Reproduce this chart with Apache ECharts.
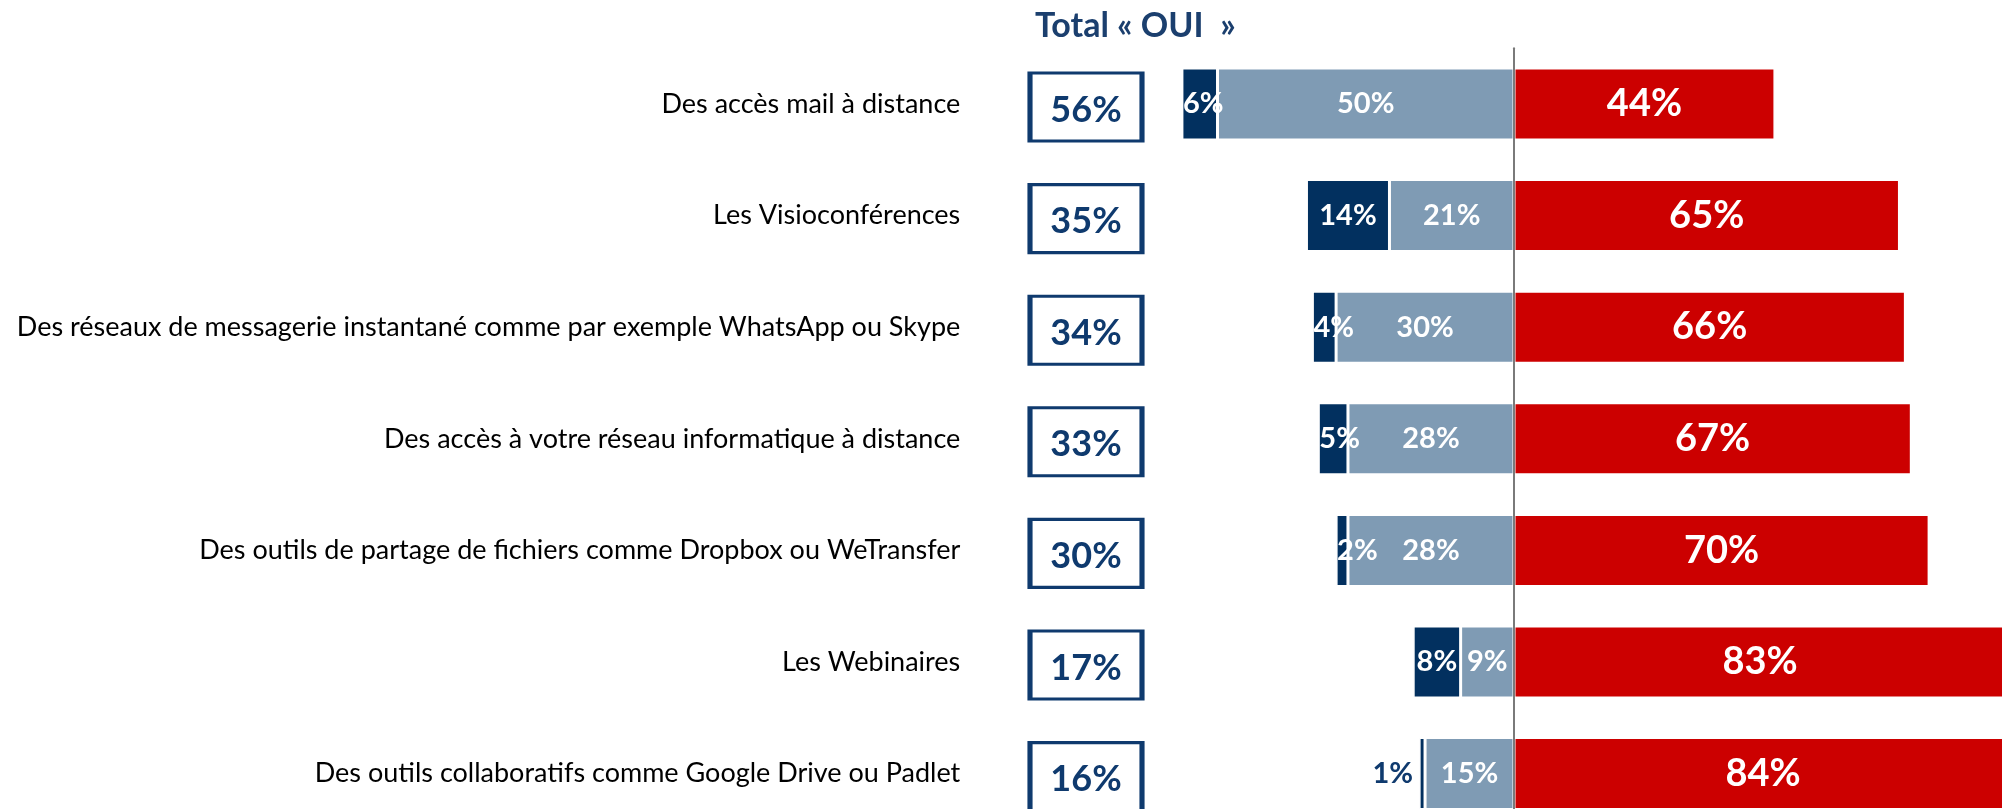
<!DOCTYPE html>
<html>
<head>
<meta charset="UTF-8">
<title>Total OUI</title>
<script src="https://cdn.jsdelivr.net/npm/echarts@6/dist/echarts.min.js"></script>
<style>
html, body { margin: 0; padding: 0; background: #fff; }
#main { width: 2002px; height: 809px; }
</style>
</head>
<body>
<div id="main"></div>
<script>
var categories = [
    'Des accès mail à distance',
    'Les Visioconférences',
    'Des réseaux de messagerie instantané comme par exemple WhatsApp ou Skype',
    'Des accès à votre réseau informatique à distance',
    'Des outils de partage de fichiers comme Dropbox ou WeTransfer',
    'Les Webinaires',
    'Des outils collaboratifs comme Google Drive ou Padlet'
];
var ouiTout = [6, 14, 4, 5, 2, 8, 1];      // bleu foncé
var ouiPlutot = [50, 21, 30, 28, 28, 9, 15]; // bleu clair
var non = [44, 65, 66, 67, 70, 83, 84];       // rouge
var totalOui = [56, 35, 34, 33, 30, 17, 16];

var NAVY = '#02305f';
var LIGHT = '#7f9bb4';
var RED = '#cc0000';
var BOX = '#0f3a6e';
var FONT = 'Lato';

function pct(p) {
    return Math.abs(p.value) + '%';
}

var chart = echarts.init(document.getElementById('main'));

// barres étroites : étiquette calée à gauche, ou dehors en bleu pour 1%
var darkData = ouiTout.map(function (v) {
    if (v < 2) {
        return { value: -v, label: { position: 'left', color: BOX, distance: 6 } };
    }
    if (v <= 6) {
        return { value: -v, label: { position: 'insideLeft', distance: 1 } };
    }
    return -v;
});

var boxData = totalOui.map(function (v, i) {
    return [0, categories[i], v];
});

option = {
    animation: false,
    title: {
        text: 'Total « OUI  »',
        left: 1030, top: 4,
        textStyle: { color: '#1b3f6e', fontFamily: FONT, fontWeight: 'bold', fontSize: 34 }
    },
    grid: [
        { left: 980.3, width: 1067.4, top: 48.2, height: 781.2, outerBoundsMode: 'none' },
        { left: 1028, width: 116, top: 48.2, height: 781.2, outerBoundsMode: 'none' }
    ],
    xAxis: [
        { gridIndex: 0, type: 'value', min: -90, max: 90, show: false },
        { gridIndex: 1, type: 'value', min: -1, max: 1, show: false }
    ],
    yAxis: [
        {
            gridIndex: 0, type: 'category', data: categories, inverse: true, z: 5,
            axisLine: { show: true, onZero: true, lineStyle: { color: '#7a7a7a', width: 2 } },
            axisTick: { show: false },
            axisLabel: { margin: 20, color: '#000', fontFamily: FONT, fontSize: 27 }
        },
        {
            gridIndex: 1, type: 'category', data: categories, inverse: true, show: false
        }
    ],
    series: [
        {
            name: 'Oui plutôt', type: 'bar', stack: 'a', data: ouiPlutot.map(function (v) { return -v; }),
            barWidth: 72,
            itemStyle: { color: LIGHT, borderColor: '#fff', borderWidth: 1.5 },
            label: { show: true, position: 'inside', color: '#fff', fontFamily: FONT, fontWeight: 'bold', fontSize: 29, formatter: pct }
        },
        {
            name: 'Oui tout à fait', type: 'bar', stack: 'a', data: darkData,
            barWidth: 72,
            itemStyle: { color: NAVY, borderColor: '#fff', borderWidth: 1.5 },
            label: { show: true, position: 'inside', color: '#fff', fontFamily: FONT, fontWeight: 'bold', fontSize: 29, formatter: pct }
        },
        {
            name: 'Non', type: 'bar', stack: 'a', data: non,
            barWidth: 72,
            itemStyle: { color: RED, borderColor: '#fff', borderWidth: 1.5 },
            label: { show: true, position: 'inside', color: '#fff', fontFamily: FONT, fontWeight: 'bold', fontSize: 38, formatter: pct }
        },
        {
            name: 'Total OUI', type: 'scatter', xAxisIndex: 1, yAxisIndex: 1,
            data: boxData,
            symbol: 'rect', symbolSize: [112, 68], symbolOffset: [0, 3],
            itemStyle: { color: '#fff', borderColor: BOX, borderWidth: 4, opacity: 1 },
            label: {
                show: true, position: 'inside', offset: [0, 3], color: BOX,
                fontFamily: FONT, fontWeight: 'bold', fontSize: 36,
                formatter: function (p) { return p.value[2] + '%'; }
            }
        }
    ]
};
chart.setOption(option);
</script>
</body>
</html>
